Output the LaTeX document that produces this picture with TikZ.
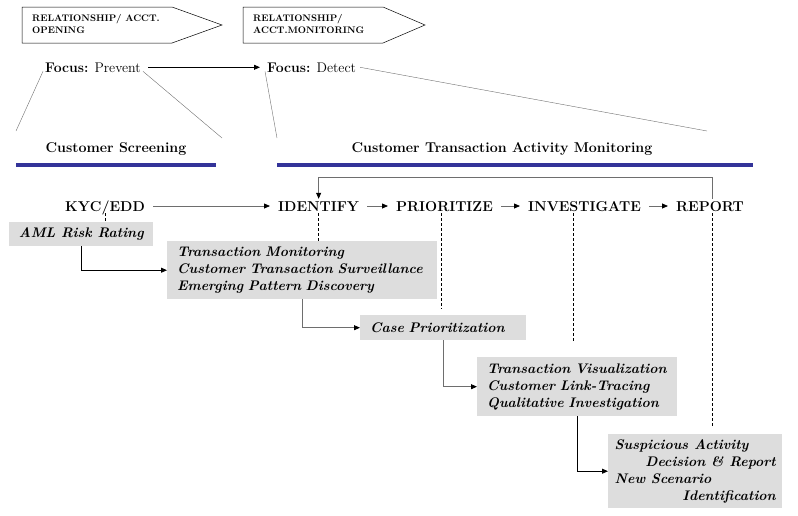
\documentclass[tikz,border=0pt]{standalone}
\usetikzlibrary{arrows.meta,calc}
\definecolor{barblue}{RGB}{51,51,153}
\definecolor{boxgray}{RGB}{221,221,221}
\definecolor{linegray}{RGB}{110,110,110}
\begin{document}
\begin{tikzpicture}[x=1pt,y=-1pt,
  tip/.style={-{Triangle[length=6pt,width=5pt,color=black]}},
  conn/.style={tip,draw=linegray,line width=0.8pt},
  rowlab/.style={font=\fontsize{14.3}{16}\selectfont\bfseries,text height=10pt,text depth=0pt,inner xsep=8pt,inner ysep=2pt,anchor=base west},
  pentext/.style={font=\fontsize{9.5}{12.5}\selectfont\bfseries,align=left,inner sep=0pt,anchor=north west},
  focuslab/.style={font=\fontsize{14}{16}\selectfont,inner sep=2pt,anchor=base west},
  titlelab/.style={font=\fontsize{14.2}{16}\selectfont\bfseries,anchor=base,inner sep=1pt},
  graybox/.style={fill=boxgray,font=\fontsize{13.9}{17}\selectfont\bfseries\itshape,align=left,inner xsep=10pt,inner ysep=0pt,anchor=north west},
  thinline/.style={draw=linegray,line width=0.4pt},
  bar/.style={draw=barblue,line width=4pt},
  dashline/.style={line width=0.5pt,dash pattern=on 3pt off 2pt}
]
\useasboundingbox (0,0) rectangle (798,515);

% pentagons
\draw[line width=0.5pt] (22,7) -- (172,7) -- (222,25) -- (172,43) -- (22,43) -- cycle;
\node[pentext] (p1) at (32,14) {RELATIONSHIP/ ACCT.\\OPENING};
\draw[line width=0.5pt] (243,7) -- (383,7) -- (425,25) -- (383,43) -- (243,43) -- cycle;
\node[pentext] (p2) at (253,14) {RELATIONSHIP/\\ACCT.MONITORING};

% focus
\node[focuslab] (fp) at (43,72) {\textbf{Focus:} Prevent};
\node[focuslab] (fd) at (265,72) {\textbf{Focus:} Detect};
\draw[tip,line width=0.8pt,shorten <=5pt,shorten >=5pt] (fp.east) -- (fd.west);

\coordinate (l1) at (16,131);
\coordinate (l2) at (222,138);
\coordinate (l3) at (277,138);
\coordinate (l4) at (707,131);
\draw[thinline] ([yshift=3pt]fp.south west) -- (l1);
\draw[thinline] ([yshift=3pt]fp.south east) -- (l2);
\draw[thinline] ([yshift=3pt]fd.south west) -- (l3);
\draw[thinline] ([xshift=2pt]fd.east) -- (l4);

% titles and bars
\node[titlelab] (cs) at (116,152) {Customer Screening};
\node[titlelab] (ctam) at (502,152) {Customer Transaction Activity Monitoring};
\coordinate (b1a) at (16,165); \coordinate (b1b) at (216,165);
\coordinate (b2a) at (277,165); \coordinate (b2b) at (753,165);
\draw[bar] (b1a) -- (b1b);
\draw[bar] (b2a) -- (b2b);

% row
\node[rowlab] (kyc) at (57,211) {KYC/EDD};
\node[rowlab] (ident) at (270,211) {IDENTIFY};
\node[rowlab] (prio) at (388,211) {PRIORITIZE};
\node[rowlab] (inv) at (520,211) {INVESTIGATE};
\node[rowlab] (rep) at (668,211) {REPORT};
\draw[conn] (kyc) -- (ident);
\draw[conn] (ident) -- (prio);
\draw[conn] (prio) -- (inv);
\draw[conn] (inv) -- (rep);
\draw[conn] ([xshift=2pt]rep.north) -- ++(0,-21) -| (ident.north);

% boxes
\node[graybox,inner xsep=0pt,minimum width=144pt,minimum height=24pt] (aml) at (9,222) {AML Risk Rating};
\node[graybox,text width=250pt,minimum height=58pt] (tm) at (167,241) {Transaction Monitoring\\Customer Transaction Surveillance\\Emerging Pattern Discovery};
\node[graybox,text width=146pt,minimum height=25pt] (cp) at (360,315) {Case Prioritization};
\node[graybox,text width=180pt,minimum height=59pt] (tv) at (477,357) {Transaction Visualization\\Customer Link-Tracing\\Qualitative Investigation};
\node[graybox,inner xsep=0pt,minimum width=174pt,minimum height=74pt] (sa) at (608,434) {\makebox[161pt][l]{Suspicious Activity}\\\makebox[161pt][r]{Decision \& Report}\\\makebox[161pt][l]{New Scenario}\\\makebox[161pt][r]{Identification}};

% dashed
\draw[dashline] (kyc.south) -- (kyc.south |- aml.north);
\draw[dashline] (ident.south) -- (ident.south |- tm.north);
\draw[dashline,shorten >=6pt] ([xshift=-3pt]prio.south) -- ([xshift=-3pt]prio.south |- cp.north);
\draw[dashline,shorten >=14pt] ([xshift=-11pt]inv.south) -- ([xshift=-11pt]inv.south |- tv.north);
\draw[dashline,shorten >=6pt] ([xshift=2pt]rep.south) -- ([xshift=2pt]rep.south |- sa.north);

% elbows
\draw[conn,draw=black] (aml.south) |- (tm.west);
\draw[conn] (tm.south) |- (cp.west);
\draw[conn] (cp.south) |- (tv.west);
\draw[conn,draw=black] (tv.south) |- (sa.west);
\end{tikzpicture}
\end{document}
